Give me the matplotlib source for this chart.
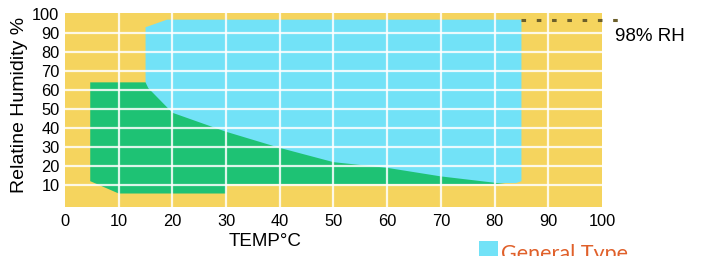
import matplotlib
matplotlib.use("Agg")
import matplotlib.pyplot as plt
from matplotlib.patches import Polygon, Rectangle

plt.rcParams['font.family'] = ['Liberation Sans', 'DejaVu Sans']

# Data
x_ticks = [0, 10, 20, 30, 40, 50, 60, 70, 80, 90, 100]
y_ticks = [10, 20, 30, 40, 50, 60, 70, 80, 90, 100]

# General Type (blue) range outline: temperature, humidity
blue_temp = [15, 15, 19, 85, 85, 84, 15]
blue_rh = [64, 93, 97, 97, 12, 11, 11]

# Green region (lower range) outline
green_temp = [4.7, 15, 15.5, 20, 30, 40, 50, 60, 70, 82, 30, 30, 10, 4.7]
green_rh = [64, 64, 61, 48, 38, 29.5, 22, 19, 14.5, 10.5, 10.5, 5.5, 5.5, 12]

rh_line_temp = [85, 103]
rh_line_value = [97, 97]
rh_label = "98% RH"

yellow = "#F5D45E"
blue = "#72E2F7"
green = "#1EC274"

fig = plt.figure(figsize=(7.02, 2.56), dpi=100)
ax = fig.add_axes([65/702, 1-207/256, (602-65)/702, (207-13)/256])
ax.set_facecolor(yellow)
ax.set_xlim(0, 100)
ax.set_ylim(-1.6, 100.5)

ax.add_patch(Polygon(list(zip(blue_temp, blue_rh)), closed=True, facecolor=blue,
                     edgecolor='none', zorder=1))
ax.add_patch(Polygon(list(zip(green_temp, green_rh)), closed=True, facecolor=green,
                     edgecolor='none', zorder=2))

for v in x_ticks[1:-1]:
    ax.axvline(v, color='white', lw=1.6, alpha=0.85, zorder=3)
for v in y_ticks[:-1]:
    ax.axhline(v, color='white', lw=1.6, alpha=0.85, zorder=3)

ax.plot(rh_line_temp, rh_line_value, linestyle=(0, (1.5, 3.5)), color='#6B5E2A',
        lw=2.2, clip_on=False, zorder=4)
ax.text(102.5, 88, rh_label, fontsize=13.5, ha='left', va='center', clip_on=False)

for s in ax.spines.values():
    s.set_visible(False)
ax.set_xticks(x_ticks)
ax.set_yticks(y_ticks)
ax.tick_params(length=0, labelsize=11.8, pad=5)
ax.tick_params(axis='y', pad=4)

fig.text(20/702, 1-105/256, "Relatine Humidity %", rotation=90, fontsize=14,
         ha='center', va='center')
fig.text(265/702, 1-242/256, "TEMP°C", fontsize=13.5, ha='center', va='center')

# Legend partially cut off at bottom (as in the reference)
fig.patches.append(Rectangle((479/702, 1-260/256), 19/702, 19/256,
                             transform=fig.transFigure, facecolor=blue, edgecolor='none'))
fig.text(501/702, 1-244/256, "General Type", fontsize=15.5, color='#E0602A',
         ha='left', va='top', family=['Lato', 'DejaVu Sans'])

fig.savefig("out.png", dpi=100)
